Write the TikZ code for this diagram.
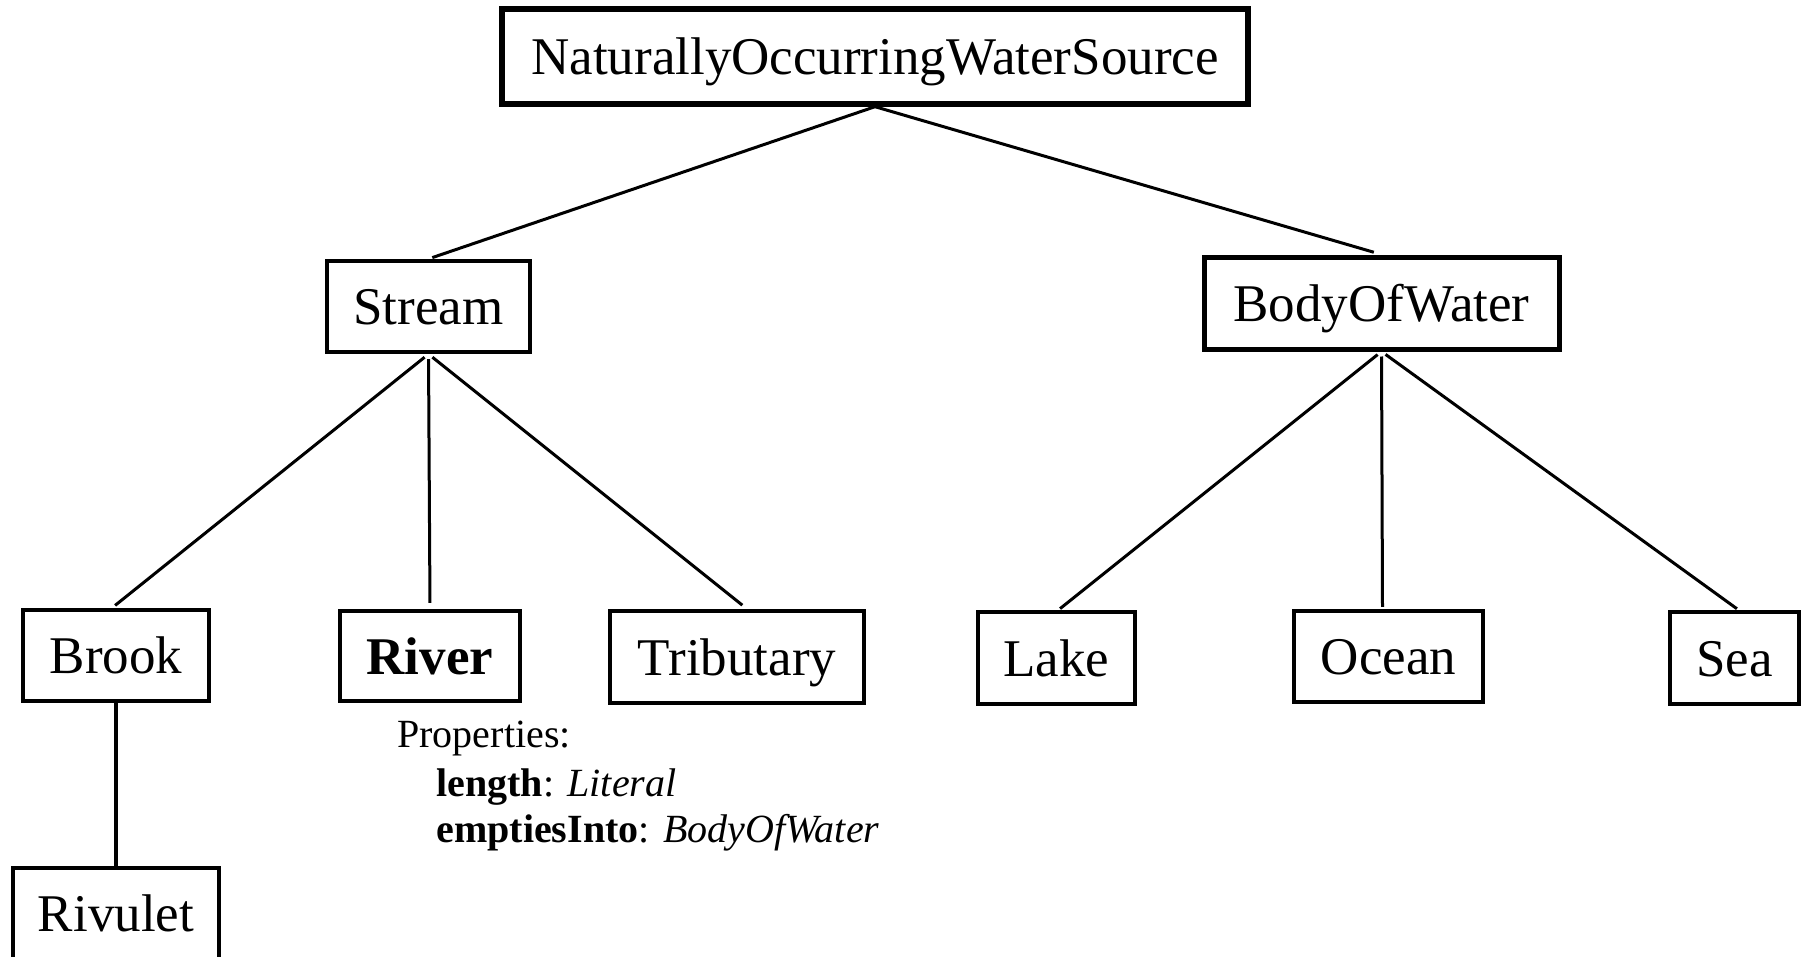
\documentclass[tikz,border=0pt]{standalone}
\usepackage{fontspec}
\setmainfont{Liberation Serif}
\begin{document}
\begin{tikzpicture}[x=0.5pt,y=-0.5pt,
  cls/.style={draw, line width=2.1pt, inner sep=0pt, text height=23.5pt, text depth=5.3pt, font=\fontsize{26.5}{30}\selectfont},
  link/.style={line width=1.5pt},
  prop/.style={anchor=base west, inner sep=0pt, font=\fontsize{20}{24}\selectfont}]
\useasboundingbox (0,0) rectangle (1808,957);
\node[cls, line width=2.7pt, minimum width=373pt, minimum height=47.5pt] (nows) at (875,56.5) {NaturallyOccurringWaterSource};
\node[cls, minimum width=101.5pt, minimum height=45.5pt] (stream) at (428.5,306.5) {Stream};
\node[cls, line width=2.5pt, minimum width=177.5pt, minimum height=46pt] (bow) at (1381.5,303) {BodyOfWater};
\node[cls, minimum width=93pt, minimum height=45.5pt] (brook) at (116,655.5) {Brook};
\node[cls, minimum width=90pt, minimum height=45pt] (river) at (430,656) {\bfseries River};
\node[cls, minimum width=127pt, minimum height=46pt] (trib) at (737,657) {Tributary};
\node[cls, minimum width=78.5pt, minimum height=46pt] (lake) at (1056.5,658) {Lake};
\node[cls, minimum width=94.5pt, minimum height=45.5pt] (ocean) at (1388.5,656.5) {Ocean};
\node[cls, minimum width=64.5pt, minimum height=46pt] (sea) at (1734.5,658) {Sea};
\node[cls, minimum width=103pt, minimum height=45.5pt] (rivulet) at (116,913.5) {Rivulet};
\node[prop] (p0) at (397,747) {Properties:};
\node[prop] (p1) at (436,796) {\textbf{length}: \textit{Literal}};
\node[prop] (p2) at (436,842) {\textbf{emptiesInto}: \textit{BodyOfWater}};
\draw[link, shorten >=2pt] (nows.south) -- (stream.north);
\draw[link, shorten >=4pt] (nows.south) -- (bow.north);
\draw[link, shorten <=2.5pt, shorten >=2pt] (stream.south) -- ([xshift=-2pt]brook.north);
\draw[link, shorten <=2.5pt, shorten >=3pt] (stream.south) -- (river.north);
\draw[link, shorten <=2.5pt, shorten >=3pt] (stream.south) -- ([xshift=5pt]trib.north);
\draw[link, shorten <=2.5pt, shorten >=1pt] (bow.south) -- ([xshift=1pt]lake.north);
\draw[link, shorten <=2.5pt, shorten >=1pt] (bow.south) -- ([xshift=-3pt]ocean.north);
\draw[link, shorten <=2.5pt, shorten >=1pt] (bow.south) -- ([xshift=2pt]sea.north);
\draw[link, line width=2pt] (brook.south) -- (rivulet.north);
\end{tikzpicture}
\end{document}
